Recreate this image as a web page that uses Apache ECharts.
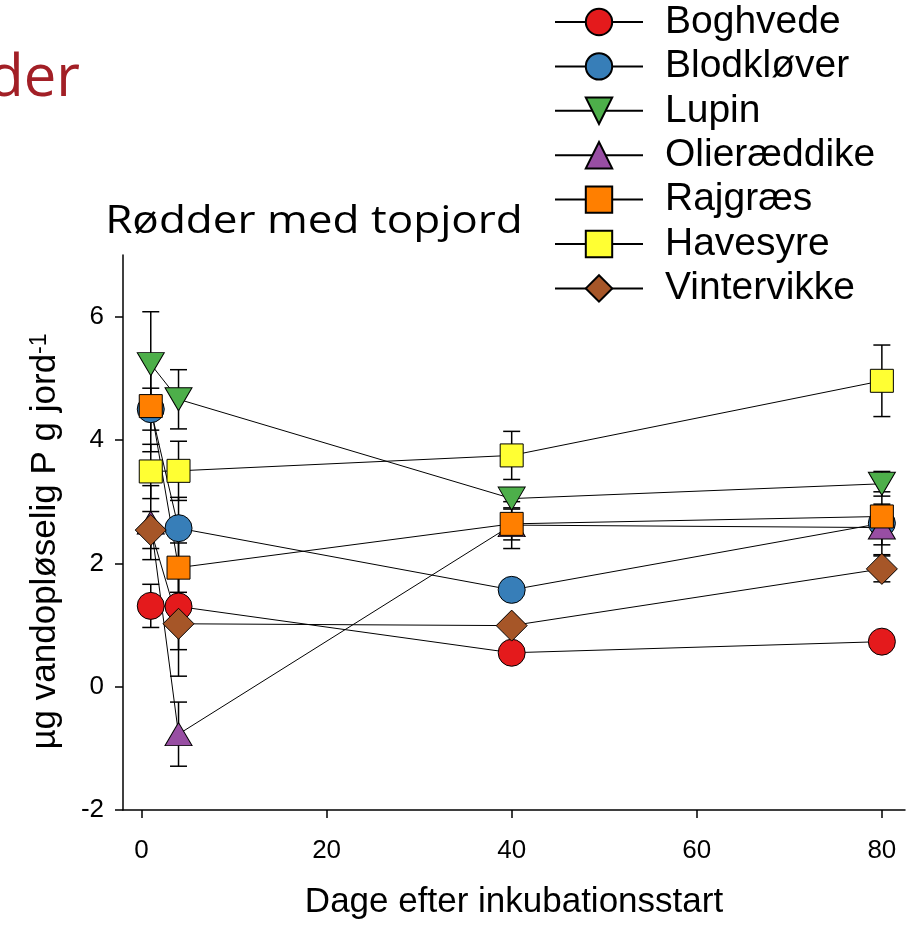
<!DOCTYPE html>
<html>
<head>
<meta charset="utf-8">
<script src="https://cdn.jsdelivr.net/npm/echarts@6/dist/echarts.min.js"></script>
<style>html,body{margin:0;padding:0;background:#fff}#c{width:915px;height:925px}</style>
</head>
<body>
<div id="c"></div>
<script>
var days = [1, 4, 40, 80];
var names = ['Boghvede', 'Blodkløver', 'Lupin', 'Olieræddike', 'Rajgræs', 'Havesyre', 'Vintervikke'];
var boghvede    = [1.31, 1.30, 0.55, 0.73];
var blodklover  = [4.50, 2.57, 1.57, 2.65];
var lupin       = [5.23, 4.66, 3.05, 3.29];
var olieraeddike= [2.66, -0.77, 2.62, 2.58];
var rajgraes    = [4.55, 1.93, 2.64, 2.76];
var havesyre    = [3.49, 3.50, 3.75, 4.96];
var vintervikke = [2.54, 1.02, 0.99, 1.91];
var errBoghvede    = [0.35, 0.70, 0.10, 0.08];
var errBlodklover  = [0.34, 0.50, 0.10, 0.51];
var errLupin       = [0.85, 0.48, 0.17, 0.20];
var errOlieraeddike= [0.60, 0.52, 0.38, 0.28];
var errRajgraes    = [0.74, 0.40, 0.26, 0.20];
var errHavesyre    = [0.44, 0.48, 0.39, 0.58];
var errVintervikke = [0.30, 0.85, 0.10, 0.21];
var xTicks = [0, 20, 40, 60, 80];
var yTicks = [-2, 0, 2, 4, 6];

var values = [boghvede, blodklover, lupin, olieraeddike, rajgraes, havesyre, vintervikke];
var errors = [errBoghvede, errBlodklover, errLupin, errOlieraeddike, errRajgraes, errHavesyre, errVintervikke];
var colors = ['#e41a1c', '#377eb8', '#4daf4a', '#984ea3', '#ff7f00', '#ffff33', '#a65628'];
var symbols = ['circle', 'circle', 'triangle', 'triangle', 'rect', 'rect', 'diamond'];
var sizes = [27, 27, [27, 23], [27, 23], 23, 23, 31];
var rotates = [0, 0, 180, 0, 0, 0, 0];

function errRender(params, api) {
  var x = api.value(0), y = api.value(1), e = api.value(2);
  var hi = api.coord([x, y + e]), lo = api.coord([x, y - e]);
  var w = 8.5;
  var st = {stroke: '#000', lineWidth: 1.5};
  return {type: 'group', children: [
    {type: 'line', shape: {x1: hi[0], y1: hi[1], x2: lo[0], y2: lo[1]}, style: st},
    {type: 'line', shape: {x1: hi[0] - w, y1: hi[1], x2: hi[0] + w, y2: hi[1]}, style: st},
    {type: 'line', shape: {x1: lo[0] - w, y1: lo[1], x2: lo[0] + w, y2: lo[1]}, style: st}
  ]};
}

var series = [];
names.forEach(function (n, i) {
  series.push({
    type: 'custom', name: n + ' err', renderItem: errRender, z: 1, silent: true,
    encode: {x: 0, y: 1},
    data: days.map(function (d, j) { return [d, values[i][j], errors[i][j]]; })
  });
});
names.forEach(function (n, i) {
  series.push({
    type: 'line', name: n, z: 3,
    data: days.map(function (d, j) { return [d, values[i][j]]; }),
    symbol: symbols[i], symbolSize: sizes[i], symbolRotate: rotates[i],
    lineStyle: {color: '#000', width: 1},
    itemStyle: {color: colors[i], borderColor: '#000', borderWidth: 1, opacity: 1},
    animation: false
  });
});

var FONT = 'Liberation Sans, Arial';
var chart = echarts.init(document.getElementById('c'), null, {renderer: 'canvas'});
chart.setOption({
  animation: false,
  backgroundColor: '#fff',
  grid: {left: 123, top: 255, width: 782, height: 560},
  legend: {
    data: names, left: 554, top: 2.5, orient: 'vertical', padding: 0,
    itemWidth: 88, itemHeight: 33, itemGap: 5.4,
    textStyle: {fontFamily: FONT, fontSize: 39, color: '#000', padding: [0, 0, 0, 17]}
  },
  xAxis: {
    type: 'value', min: -2, max: 82.5,
    name: 'Dage efter inkubationsstart', nameLocation: 'middle', nameGap: 75,
    nameTextStyle: {fontFamily: FONT, fontSize: 35, color: '#000'},
    axisLine: {onZero: false, lineStyle: {color: '#000', width: 1.5}},
    axisTick: {customValues: xTicks, length: 8, lineStyle: {color: '#000', width: 1.5}},
    axisLabel: {customValues: xTicks, margin: 28, fontFamily: FONT, fontSize: 26, color: '#000'},
    splitLine: {show: false}
  },
  yAxis: {
    type: 'value', min: -2, max: 7,
    name: '{a|µg vandopløselig P g jord}{b|-1}', nameLocation: 'middle', nameGap: 60, nameRotate: 90,
    nameTextStyle: {color: '#000', padding: [0, 18, 0, 0], rich: {
      a: {fontFamily: FONT, fontSize: 35, color: '#000'},
      b: {fontFamily: FONT, fontSize: 23, color: '#000', verticalAlign: 'top'}
    }},
    axisLine: {onZero: false, lineStyle: {color: '#000', width: 1.5}},
    axisTick: {customValues: yTicks, length: 8, lineStyle: {color: '#000', width: 1.5}},
    axisLabel: {customValues: yTicks, margin: 19, fontFamily: FONT, fontSize: 26, color: '#000'},
    splitLine: {show: false}
  },
  graphic: [
    {type: 'text', x: 80, y: 108, scaleX: 1.0,
     style: {text: 'Rødder', fontFamily: 'Open Sans', fontSize: 58, fill: '#a21f26', align: 'right', verticalAlign: 'bottom'}},
    {type: 'text', x: 314, y: 222, scaleX: 1.16, originX: 0,
     style: {text: 'Rødder med topjord', fontFamily: 'Open Sans', fontSize: 38, fill: '#000', align: 'center', verticalAlign: 'middle'}}
  ],
  series: series
});
</script>
</body>
</html>
